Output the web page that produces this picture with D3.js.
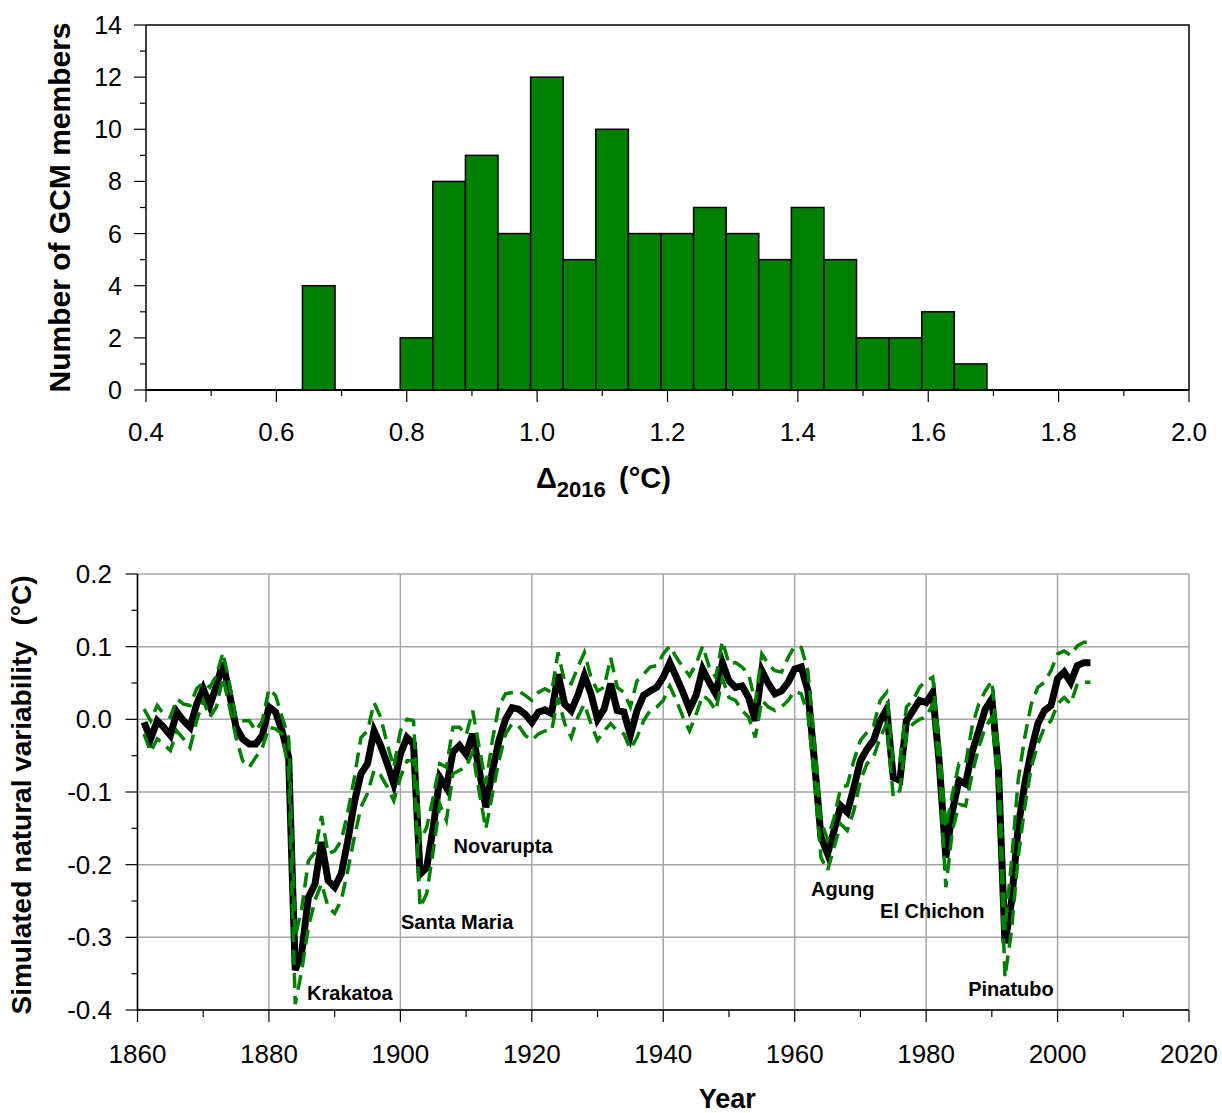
<!DOCTYPE html>
<html>
<head>
<meta charset="utf-8">
<script src="https://cdn.jsdelivr.net/npm/d3@7"></script>
<style>
  body { margin: 0; background: #fff; }
  svg { font-family: "Liberation Sans", Arial, sans-serif; }
</style>
</head>
<body>
<div id="chart"></div>
<script>
// ---- top panel: histogram of GCM members ----
var binStarts = [0.64, 0.69, 0.74, 0.79, 0.84, 0.89, 0.94, 0.99, 1.04, 1.09, 1.14,
                 1.19, 1.24, 1.29, 1.34, 1.39, 1.44, 1.49, 1.54, 1.59, 1.64];
var binCounts = [4, 0, 0, 2, 8, 9, 6, 12, 5, 10, 6, 6, 7, 6, 5, 7, 5, 2, 2, 3, 1];
var binWidth = 0.05;
var histXTicks = [0.4, 0.6, 0.8, 1.0, 1.2, 1.4, 1.6, 1.8, 2.0];
var histYTicks = [0, 2, 4, 6, 8, 10, 12, 14];

// ---- bottom panel: simulated natural variability ----
var years = d3.range(1861, 2006);
var meanValues = [
  -0.004, -0.027, -0.002, -0.011, -0.022, 0.010, -0.002, -0.011, 0.021, 0.042,
  0.019, 0.046, 0.078, 0.035, -0.011, -0.027, -0.034, -0.034, -0.022, 0.017,
  0.010, -0.016, -0.052, -0.345, -0.320, -0.245, -0.227, -0.169, -0.222, -0.231,
  -0.213, -0.167, -0.114, -0.075, -0.061, -0.016, -0.036, -0.061, -0.089, -0.048,
  -0.025, -0.034, -0.213, -0.204, -0.149, -0.080, -0.094, -0.045, -0.036, -0.048,
  -0.020, -0.070, -0.121, -0.071, -0.029, 0.000, 0.016, 0.014, 0.007, -0.004,
  0.010, 0.013, 0.008, 0.062, 0.021, 0.012, 0.033, 0.060, 0.035, 0.000,
  0.014, 0.049, 0.012, 0.010, -0.022, 0.012, 0.033, 0.039, 0.044, 0.058,
  0.078, 0.058, 0.037, 0.014, 0.033, 0.069, 0.051, 0.035, 0.078, 0.053,
  0.044, 0.046, 0.030, -0.002, 0.067, 0.049, 0.035, 0.039, 0.051, 0.069,
  0.072, 0.040, -0.057, -0.162, -0.185, -0.153, -0.119, -0.128, -0.094, -0.057,
  -0.041, -0.029, -0.002, 0.014, -0.080, -0.084, -0.002, 0.012, 0.026, 0.023,
  0.037, -0.060, -0.190, -0.126, -0.084, -0.089, -0.045, -0.016, 0.014, 0.028,
  -0.068, -0.308, -0.250, -0.149, -0.089, -0.043, -0.006, 0.012, 0.019, 0.056,
  0.065, 0.051, 0.074, 0.078, 0.078
];
var upperValues = [
  0.014, -0.002, 0.019, 0.007, 0.003, 0.028, 0.021, 0.019, 0.042, 0.051,
  0.044, 0.060, 0.092, 0.049, 0.000, -0.002, -0.002, -0.016, -0.002, 0.042,
  0.033, 0.003, -0.025, -0.300, -0.260, -0.195, -0.183, -0.133, -0.185, -0.181,
  -0.167, -0.128, -0.080, -0.025, -0.016, 0.023, 0.003, -0.034, -0.066, -0.016,
  0.000, -0.002, -0.167, -0.149, -0.107, -0.061, -0.066, -0.011, -0.011, -0.022,
  0.012, -0.039, -0.089, -0.029, 0.019, 0.035, 0.037, 0.039, 0.033, 0.026,
  0.037, 0.042, 0.037, 0.092, 0.051, 0.049, 0.072, 0.092, 0.058, 0.039,
  0.044, 0.085, 0.044, 0.037, 0.017, 0.053, 0.062, 0.072, 0.074, 0.090,
  0.101, 0.085, 0.072, 0.060, 0.076, 0.101, 0.072, 0.058, 0.108, 0.076,
  0.078, 0.072, 0.062, 0.023, 0.090, 0.076, 0.067, 0.065, 0.085, 0.101,
  0.099, 0.067, -0.030, -0.140, -0.165, -0.135, -0.094, -0.091, -0.057, -0.029,
  -0.018, -0.009, 0.026, 0.037, -0.061, -0.057, 0.017, 0.026, 0.044, 0.053,
  0.058, -0.034, -0.150, -0.103, -0.061, -0.062, -0.010, 0.021, 0.039, 0.053,
  -0.048, -0.290, -0.195, -0.084, -0.025, 0.021, 0.044, 0.051, 0.067, 0.090,
  0.094, 0.088, 0.101, 0.106, 0.106
];
var lowerValues = [
  -0.020, -0.045, -0.027, -0.034, -0.043, -0.016, -0.027, -0.039, -0.002, 0.026,
  0.003, 0.017, 0.058, 0.017, -0.025, -0.057, -0.066, -0.052, -0.039, -0.011,
  -0.013, -0.020, -0.071, -0.392, -0.345, -0.286, -0.249, -0.226, -0.258, -0.267,
  -0.249, -0.208, -0.162, -0.121, -0.102, -0.070, -0.077, -0.093, -0.112, -0.080,
  -0.057, -0.057, -0.259, -0.240, -0.181, -0.117, -0.139, -0.075, -0.070, -0.066,
  -0.045, -0.100, -0.151, -0.103, -0.057, -0.020, -0.006, -0.009, -0.022, -0.029,
  -0.020, -0.016, -0.016, 0.030, -0.006, -0.025, 0.003, 0.021, -0.006, -0.029,
  -0.016, -0.006, -0.016, -0.020, -0.041, -0.025, -0.002, 0.012, 0.017, 0.026,
  0.046, 0.026, 0.003, -0.016, 0.007, 0.033, 0.026, 0.012, 0.056, 0.030,
  0.026, 0.012, 0.003, -0.025, 0.026, 0.017, 0.012, 0.017, 0.026, 0.039,
  0.035, 0.007, -0.080, -0.190, -0.208, -0.176, -0.144, -0.153, -0.126, -0.084,
  -0.061, -0.052, -0.025, -0.006, -0.107, -0.098, -0.020, -0.006, 0.000, 0.003,
  0.021, -0.071, -0.231, -0.153, -0.117, -0.119, -0.075, -0.039, -0.011, 0.003,
  -0.094, -0.355, -0.290, -0.190, -0.121, -0.066, -0.034, -0.011, -0.002, 0.021,
  0.030, 0.021, 0.049, 0.051, 0.051
];
var yearTicks = [1860, 1880, 1900, 1920, 1940, 1960, 1980, 2000, 2020];
var varTicks = [0.2, 0.1, 0.0, -0.1, -0.2, -0.3, -0.4];

// volcano labels, anchored in data units (year, value)
var volcanoNames = ["Krakatoa", "Santa Maria", "Novarupta", "Agung", "El Chichon", "Pinatubo"];
var volcanoYears = [1885.8, 1900.1, 1908.1, 1962.5, 1973.0, 1986.4];
var volcanoValues = [-0.386, -0.289, -0.184, -0.243, -0.274, -0.381];

var width = 1222;
var height = 1113;
var green = "#008000";
var gridColor = "#a6a6a6";

var svg = d3.select("#chart")
  .append("svg")
  .attr("width", width)
  .attr("height", height);

drawHistogram();
drawVariability();

function drawHistogram() {
  var x = d3.scaleLinear().domain([0.4, 2.0]).range([146, 1189]);
  var y = d3.scaleLinear().domain([0, 14]).range([390, 25]);
  var g = svg.append("g");

  // frame (top and right)
  g.append("path")
    .attr("d", "M" + x(0.4) + "," + y(14) + "H" + x(2.0) + "V" + y(0))
    .attr("fill", "none")
    .attr("stroke", "#000")
    .attr("stroke-width", 1.5);

  var bins = binStarts.map((s, i) => ({ start: s, count: binCounts[i] }));

  g.selectAll("rect.bar")
    .data(bins)
    .join("rect")
    .attr("class", "bar")
    .attr("x", (d) => x(d.start))
    .attr("width", (d) => x(d.start + binWidth) - x(d.start))
    .attr("y", (d) => y(d.count))
    .attr("height", (d) => y(0) - y(d.count))
    .attr("fill", green)
    .attr("stroke", "#000")
    .attr("stroke-width", 1.5);

  // baseline (empty bins)
  g.append("line")
    .attr("x1", x(0.4)).attr("x2", x(2.0))
    .attr("y1", y(0)).attr("y2", y(0))
    .attr("stroke", "#000")
    .attr("stroke-width", 2);

  // x axis: ticks every 0.1, labels every 0.2
  var xMinor = d3.range(4, 21).map((v) => v / 10);
  g.selectAll("line.xtick")
    .data(xMinor)
    .join("line")
    .attr("class", "xtick")
    .attr("x1", (d) => x(d)).attr("x2", (d) => x(d))
    .attr("y1", y(0))
    .attr("y2", (d, i) => y(0) + (i % 2 == 0 ? 12 : 6))
    .attr("stroke", "#000")
    .attr("stroke-width", 1.2);

  g.selectAll("text.xlab")
    .data(histXTicks)
    .join("text")
    .attr("class", "xlab")
    .attr("x", (d) => x(d))
    .attr("y", 441)
    .attr("text-anchor", "middle")
    .attr("font-size", 26)
    .text((d) => d3.format(".1f")(d));

  // y axis
  g.append("line")
    .attr("x1", x(0.4)).attr("x2", x(0.4))
    .attr("y1", y(0)).attr("y2", y(14))
    .attr("stroke", "#000")
    .attr("stroke-width", 1.5);

  g.selectAll("line.ytick")
    .data(d3.range(0, 15))
    .join("line")
    .attr("class", "ytick")
    .attr("x1", (d) => x(0.4) - (d % 2 == 0 ? 12 : 6))
    .attr("x2", x(0.4))
    .attr("y1", (d) => y(d)).attr("y2", (d) => y(d))
    .attr("stroke", "#000")
    .attr("stroke-width", 1.2);

  g.selectAll("text.ylab")
    .data(histYTicks)
    .join("text")
    .attr("class", "ylab")
    .attr("x", 122)
    .attr("y", (d) => y(d) + 9)
    .attr("text-anchor", "end")
    .attr("font-size", 25)
    .text((d) => d);

  g.append("text")
    .attr("transform", "translate(70," + (y(0) + y(14)) / 2 + ") rotate(-90)")
    .attr("text-anchor", "middle")
    .attr("font-size", 30)
    .attr("font-weight", "bold")
    .text("Number of GCM members");

  var xl = g.append("text")
    .attr("x", 536)
    .attr("y", 488)
    .attr("font-size", 29)
    .attr("font-weight", "bold");
  xl.append("tspan").text("\u0394");
  xl.append("tspan").attr("dy", 9).attr("font-size", 22).text("2016");
  xl.append("tspan").attr("x", 619).attr("dy", -9).text("(\u00B0C)");
}

function drawVariability() {
  var x = d3.scaleLinear().domain([1860, 2020]).range([137.5, 1189]);
  var y = d3.scaleLinear().domain([-0.4, 0.2]).range([1010, 574]);
  var g = svg.append("g");

  // grid
  g.selectAll("line.vgrid")
    .data(yearTicks)
    .join("line")
    .attr("class", "vgrid")
    .attr("x1", (d) => x(d)).attr("x2", (d) => x(d))
    .attr("y1", y(0.2)).attr("y2", y(-0.4))
    .attr("stroke", gridColor)
    .attr("stroke-width", 1.5);

  g.selectAll("line.hgrid")
    .data(varTicks)
    .join("line")
    .attr("class", "hgrid")
    .attr("x1", x(1860)).attr("x2", x(2020))
    .attr("y1", (d) => y(d)).attr("y2", (d) => y(d))
    .attr("stroke", gridColor)
    .attr("stroke-width", 1.5);

  // axes lines
  g.append("path")
    .attr("d", "M" + x(1860) + "," + y(0.2) + "V" + y(-0.4) + "H" + x(2020))
    .attr("fill", "none")
    .attr("stroke", "#000")
    .attr("stroke-width", 1.5);

  // y ticks every 0.05
  g.selectAll("line.ytick")
    .data(d3.range(-8, 5))
    .join("line")
    .attr("class", "ytick")
    .attr("x1", (d) => x(1860) - (d % 2 == 0 ? 12 : 6))
    .attr("x2", x(1860))
    .attr("y1", (d) => y(d * 0.05)).attr("y2", (d) => y(d * 0.05))
    .attr("stroke", "#000")
    .attr("stroke-width", 1.2);

  g.selectAll("text.ylab")
    .data(varTicks)
    .join("text")
    .attr("class", "ylab")
    .attr("x", 112)
    .attr("y", (d) => y(d) + 9)
    .attr("text-anchor", "end")
    .attr("font-size", 26)
    .text((d) => d3.format(".1f")(d).replace("\u2212", "-"));

  // x ticks every 10 years
  g.selectAll("line.xtick")
    .data(d3.range(1860, 2021, 10))
    .join("line")
    .attr("class", "xtick")
    .attr("x1", (d) => x(d)).attr("x2", (d) => x(d))
    .attr("y1", y(-0.4))
    .attr("y2", (d) => y(-0.4) + (d % 20 == 0 ? 12 : 7))
    .attr("stroke", "#000")
    .attr("stroke-width", 1.2);

  g.selectAll("text.xlab")
    .data(yearTicks)
    .join("text")
    .attr("class", "xlab")
    .attr("x", (d) => x(d))
    .attr("y", 1063)
    .attr("text-anchor", "middle")
    .attr("font-size", 26)
    .text((d) => d);

  g.append("text")
    .attr("x", (x(1860) + x(2020)) / 2 + 64)
    .attr("y", 1108)
    .attr("text-anchor", "middle")
    .attr("font-size", 27)
    .attr("font-weight", "bold")
    .text("Year");

  g.append("text")
    .attr("transform", "translate(31,795) rotate(-90)")
    .attr("text-anchor", "middle")
    .attr("font-size", 28)
    .attr("font-weight", "bold")
    .attr("xml:space", "preserve")
    .style("white-space", "pre")
    .text("Simulated natural variability  (\u00B0C)");

  // series
  var line = d3.line()
    .x((d) => x(d[0]))
    .y((d) => y(d[1]));

  g.append("path")
    .datum(years.map((yr, i) => [yr, meanValues[i]]))
    .attr("d", line)
    .attr("fill", "none")
    .attr("stroke", "#000")
    .attr("stroke-width", 7)
    .attr("stroke-linejoin", "miter");

  [upperValues, lowerValues].forEach((vals) => {
    g.append("path")
      .datum(years.map((yr, i) => [yr, vals[i]]))
      .attr("d", line)
      .attr("fill", "none")
      .attr("stroke", green)
      .attr("stroke-width", 3.5)
      .attr("stroke-dasharray", "15,8");
  });

  // volcano names
  g.selectAll("text.volcano")
    .data(volcanoNames)
    .join("text")
    .attr("class", "volcano")
    .attr("x", (d, i) => x(volcanoYears[i]))
    .attr("y", (d, i) => y(volcanoValues[i]))
    .attr("font-size", 20)
    .attr("font-weight", "bold")
    .text((d) => d);
}
</script>
</body>
</html>
